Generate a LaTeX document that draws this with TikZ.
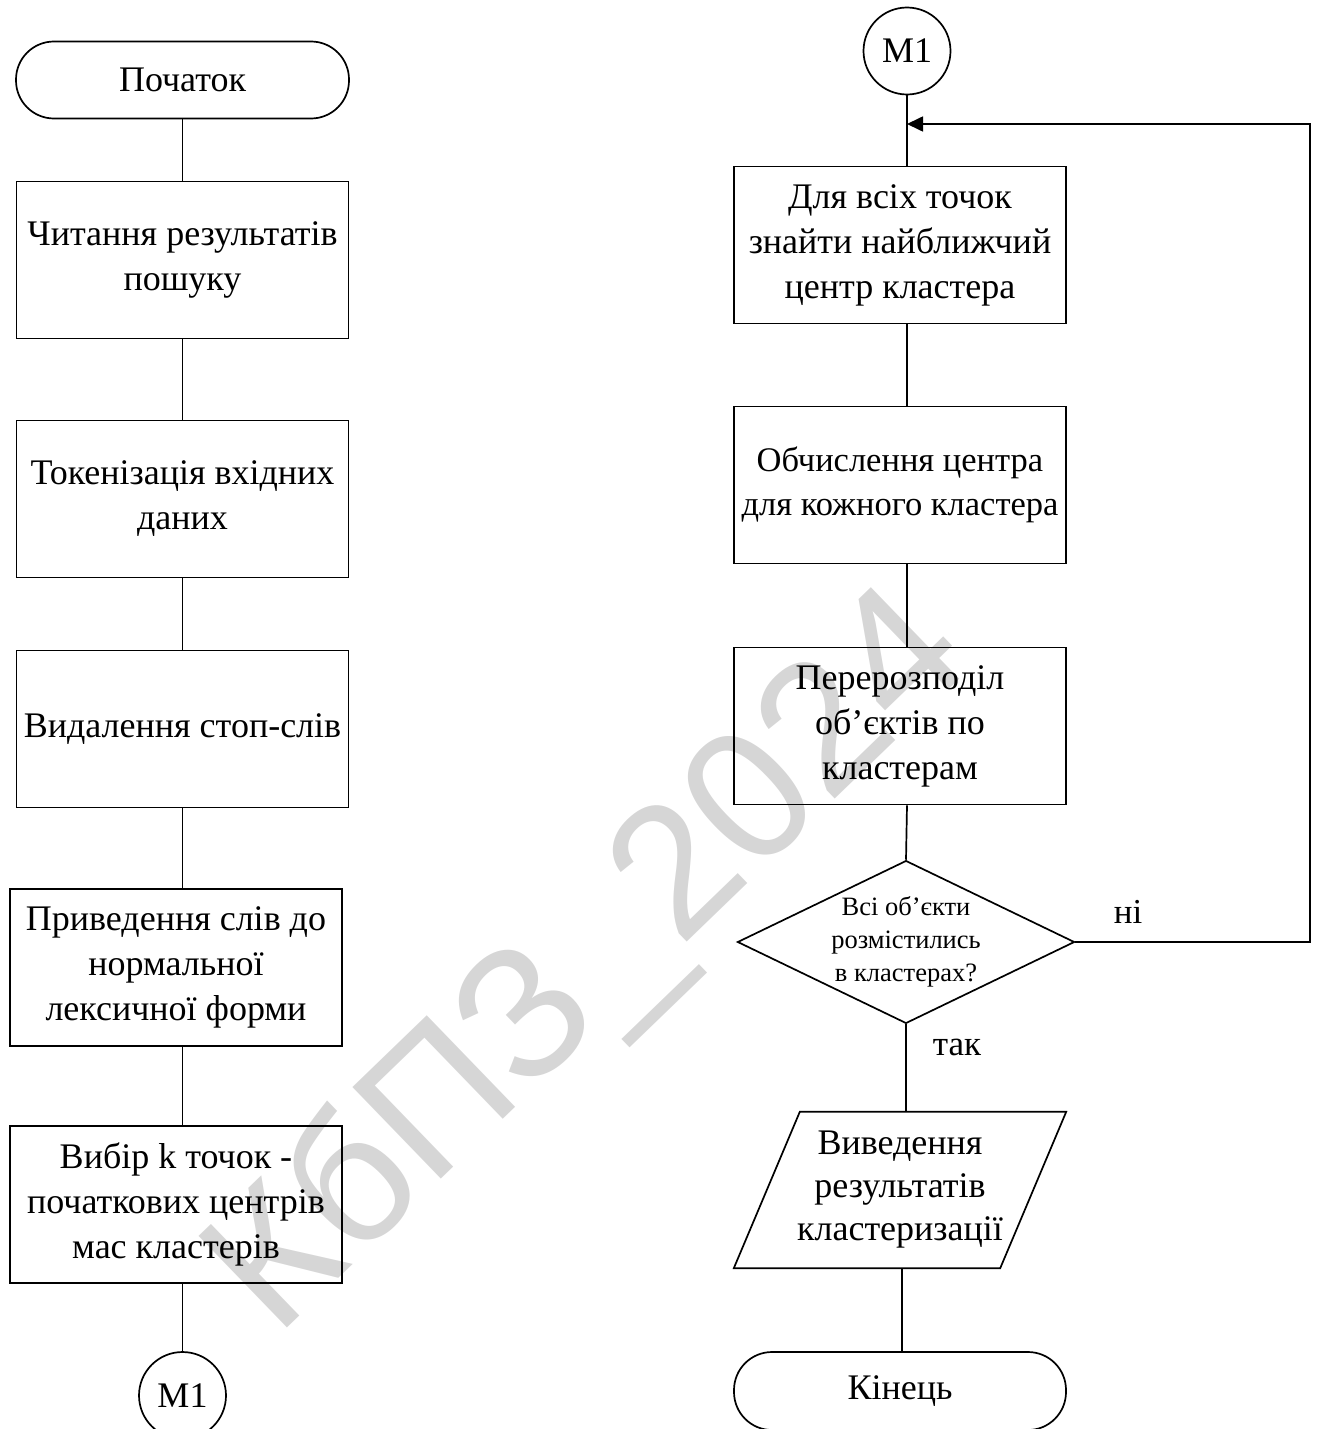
\documentclass[tikz,border=0pt]{standalone}
\usepackage{fontspec}
\setmainfont{Liberation Serif}
\newfontfamily\wmfont{Liberation Sans}
\usetikzlibrary{shapes.geometric,arrows.meta}
\tikzset{
  base/.style={draw, line width=1.7pt, align=center, inner xsep=0pt, inner ysep=2pt,
    font=\fontsize{36}{45}\selectfont},
  procbox/.style={base, rectangle, minimum width=332pt, minimum height=157pt},
  term/.style={base, rectangle, rounded corners=38pt, minimum width=333pt, minimum height=77pt},
  conn/.style={base, circle, minimum size=87pt, inner sep=0pt},
  decis/.style={base, diamond, minimum width=332pt, minimum height=160pt, aspect=2.07,
    inner sep=0pt, font=\fontsize{26.5}{33}\selectfont},
  lbl/.style={font=\fontsize{35}{40}\selectfont, inner sep=0pt},
  wire/.style={line width=1.7pt},
}
\begin{document}
\begin{tikzpicture}[x=1pt,y=-1pt]
\useasboundingbox (0,0) rectangle (1321,1429);
\clip (0,0) rectangle (1321,1429);
% watermark
\node[rotate=44, text=black!16, inner sep=0pt,
  font=\wmfont\fontsize{185}{185}\selectfont] (wm) at (592,965) {КбПЗ\_2024};
% left column
\node[term] (start) at (182.5,80) {Початок};
\node[procbox] (b1) at (182.5,260) {Читання результатів\\пошуку};
\node[procbox] (b2) at (182.5,499) {Токенізація вхідних\\даних};
\node[procbox] (b3) at (182.5,729) {Видалення стоп-слів};
\node[procbox] (b4) at (176,967.5) {Приведення слів до\\нормальної\\лексичної форми};
\node[procbox] (b5) at (176,1204.5) {Вибір k точок -\\початкових центрів\\мас кластерів};
\node[conn] (m1a) at (182.5,1395.5) {M1};
% right column
\node[conn] (m1b) at (907,51) {M1};
\node[procbox] (r1) at (900,245) {Для всіх точок\\знайти найближчий\\центр кластера};
\node[procbox, font=\fontsize{34.5}{44}\selectfont] (r2) at (900,485) {Обчислення центра\\для кожного кластера};
\node[procbox] (r3) at (900,726) {Перерозподіл\\об’єктів по\\кластерам};
\node[decis] (d) at (906,942) {Всі об’єкти\\розмістились\\в кластерах?};
\node[align=center, inner sep=0pt, minimum width=266pt, minimum height=156pt,
  font=\fontsize{36}{43}\selectfont] (p) at (900,1190) {Виведення\\результатів\\кластеризації};
\draw[wire] ([xshift=33pt]p.north west) -- ([xshift=33pt]p.north east)
  -- ([xshift=-33pt]p.south east) -- ([xshift=-33pt]p.south west) -- cycle;
\node[term, minimum width=332pt, minimum height=78pt] (end) at (900,1391) {Кінець};
\node[lbl] (no) at (1128,912) {ні};
\node[lbl] (yes) at (957,1047) {так};
% connectors left
\draw[wire] (start.south) -- (b1.north);
\draw[wire] (b1.south) -- (b2.north);
\draw[wire] (b2.south) -- (b3.north);
\draw[wire] (b3.south) -- (b3.south |- b4.north);
\draw[wire] (b3.south |- b4.south) -- (b3.south |- b5.north);
\draw[wire] (b3.south |- b5.south) -- (m1a.north);
% connectors right
\coordinate (join) at (907,124);
\coordinate (lp) at (1310,942);
\draw[wire] (m1b.south) -- (m1b.south |- r1.north);
\draw[wire] (m1b.south |- r1.south) -- (m1b.south |- r2.north);
\draw[wire] (m1b.south |- r2.south) -- (m1b.south |- r3.north);
\draw[wire] (m1b.south |- r3.south) -- (d.north);
\draw[wire] (d.south) -- (d.south |- p.north);
\draw[wire] (p.south -| 902,0) -- (end.north -| 902,0);
\draw[wire, -{Triangle[length=16pt,width=15pt]}] (d.east) -- (lp) |- (join);
\end{tikzpicture}
\end{document}
